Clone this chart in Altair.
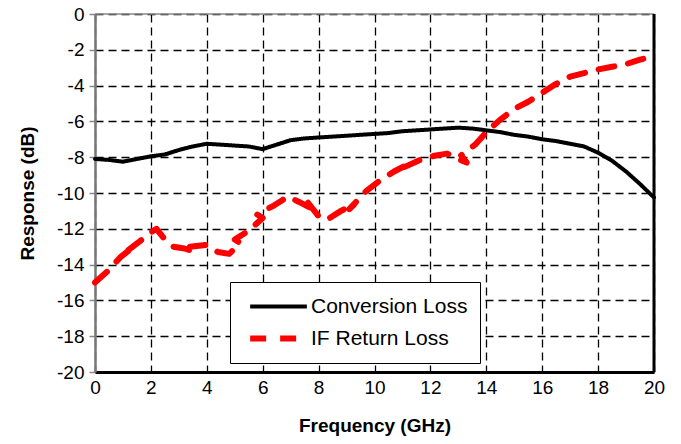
import altair as alt
import pandas as pd

# Conversion loss (solid black)
cl_freq = [0, 0.5, 1, 1.5, 2, 2.5, 3, 3.5, 4, 4.5, 5, 5.5, 6, 6.5, 7, 7.5, 8, 8.5, 9, 9.5,
           10, 10.5, 11, 11.5, 12, 12.5, 13, 13.5, 14, 14.5, 15, 15.5, 16, 16.5, 17, 17.5,
           18, 18.5, 19, 19.5, 20]
cl_val = [-8.1, -8.15, -8.25, -8.1, -7.95, -7.85, -7.6, -7.4, -7.25, -7.3, -7.35, -7.4, -7.55,
          -7.3, -7.05, -6.95, -6.9, -6.85, -6.8, -6.75, -6.7, -6.65, -6.55, -6.5, -6.45, -6.4,
          -6.35, -6.4, -6.5, -6.6, -6.75, -6.85, -7.0, -7.1, -7.25, -7.4, -7.75, -8.2, -8.8,
          -9.5, -10.25]

# IF return loss (red dashed, measured trace doubles back in places)
rl_freq = [0.0, 0.5, 0.9, 1.3, 1.1, 1.6, 2.0, 2.2, 2.5, 2.8, 3.2, 3.6, 3.4, 4.0, 4.4, 4.8,
           5.2, 5.0, 5.5, 6.0, 5.8, 6.4, 6.9, 7.3, 7.8, 7.6, 8.0, 8.3, 8.8, 9.3, 9.1, 9.7,
           10.2, 10.7, 11.2, 11.0, 11.7, 12.2, 12.6, 13.0, 13.3, 13.1, 13.6, 14.0, 14.5,
           15.0, 15.5, 16.0, 16.5, 17.0, 17.5, 18.0, 18.5, 19.0, 19.5, 20.0]
rl_val = [-15.0, -14.3, -13.6, -13.1, -13.3, -12.7, -12.2, -12.0, -12.6, -13.0, -13.1, -13.3,
          -13.0, -12.9, -13.3, -13.4, -12.8, -12.6, -12.1, -11.4, -11.2, -10.7, -10.2, -10.5,
          -10.9, -10.5, -11.3, -11.5, -11.0, -10.6, -10.9, -9.9, -9.3, -8.8, -8.4, -8.6, -8.1,
          -7.9, -7.8, -8.1, -8.3, -7.9, -7.3, -6.6, -5.9, -5.3, -4.9, -4.4, -3.9, -3.5, -3.3,
          -3.1, -2.95, -2.8, -2.55, -2.35]

series_names = ["Conversion Loss", "IF Return Loss"]
x_ticks = list(range(0, 21, 2))
y_ticks = list(range(-20, 1, 2))

rows = []
for i, (f, v) in enumerate(zip(cl_freq, cl_val)):
    rows.append({"freq": f, "val": v, "series": series_names[0], "idx": i})
for i, (f, v) in enumerate(zip(rl_freq, rl_val)):
    rows.append({"freq": f, "val": v, "series": series_names[1], "idx": i})
df = pd.DataFrame(rows)

FONT = "Liberation Sans"
W, H = 559, 358

xscale = alt.Scale(domain=[0, 20], nice=False)
yscale = alt.Scale(domain=[-20, 0], nice=False)

legend_common = dict(title=None, orient="none", legendX=135, legendY=268)

lines = alt.Chart(df).mark_line(strokeCap="round", strokeJoin="round").encode(
    x=alt.X("freq:Q", scale=xscale,
            axis=alt.Axis(title="Frequency (GHz)", values=x_ticks, labelExpr="datum.value + ''",
                          labelOverlap=False, labelFlush=False,
                          tickSize=0, labelPadding=6, titlePadding=19,
                          domainColor="black", domainWidth=3,
                          grid=True, gridColor="black", gridDash=[8, 5], gridWidth=1.3)),
    y=alt.Y("val:Q", scale=yscale,
            axis=alt.Axis(title="Response (dB)", values=y_ticks, labelExpr="datum.value + ''",
                          labelOverlap=False, labelFlush=False,
                          tickSize=6, tickColor="#888", tickWidth=1.5, labelPadding=5,
                          titlePadding=19, domainColor="#777", domainWidth=2.5,
                          grid=True, gridColor="black", gridDash=[8, 5], gridWidth=1.3)),
    color=alt.Color("series:N",
                    scale=alt.Scale(domain=series_names, range=["black", "#ff0000"]),
                    legend=alt.Legend(**legend_common,
                                      symbolType="M-2.7,0H2.7", symbolSize=441,
                                      symbolStrokeWidth=5, symbolOffset=23,
                                      labelFontSize=21, labelFont=FONT, labelColor="black",
                                      rowPadding=8, padding=12, strokeColor="black",
                                      fillColor="white", labelLimit=400, labelOffset=19,
                                      cornerRadius=0)),
    strokeDash=alt.StrokeDash("series:N",
                              scale=alt.Scale(domain=series_names, range=[[1, 0], [16, 14]]),
                              legend=alt.Legend(**legend_common)),
    strokeWidth=alt.StrokeWidth("series:N",
                                scale=alt.Scale(domain=series_names, range=[4, 6]),
                                legend=None),
    order="idx:Q",
)

# plot frame: thick black right edge, thin grey top edge
frame = pd.DataFrame({"edge": ["right"]})
right_rule = alt.Chart(frame).mark_rule(color="black", strokeWidth=3).encode(
    x=alt.value(W), y=alt.value(0), y2=alt.value(H))
top_rule = alt.Chart(frame).mark_rule(color="#888", strokeWidth=1.5).encode(
    y=alt.value(0), x=alt.value(0), x2=alt.value(W))

chart = alt.layer(lines, top_rule, right_rule).properties(
    width=W, height=H,
    autosize=alt.AutoSizeParams(type="none"),
    padding={"left": 87, "top": 6, "right": 16, "bottom": 64},
).configure_view(stroke=None).configure_axis(
    labelFont=FONT, labelFontSize=19, labelColor="black",
    titleFont=FONT, titleFontSize=19, titleFontWeight="bold", titleColor="black",
).configure_legend(labelFont=FONT)

chart.save("out.html", embed_options={"renderer": "svg", "actions": False})
